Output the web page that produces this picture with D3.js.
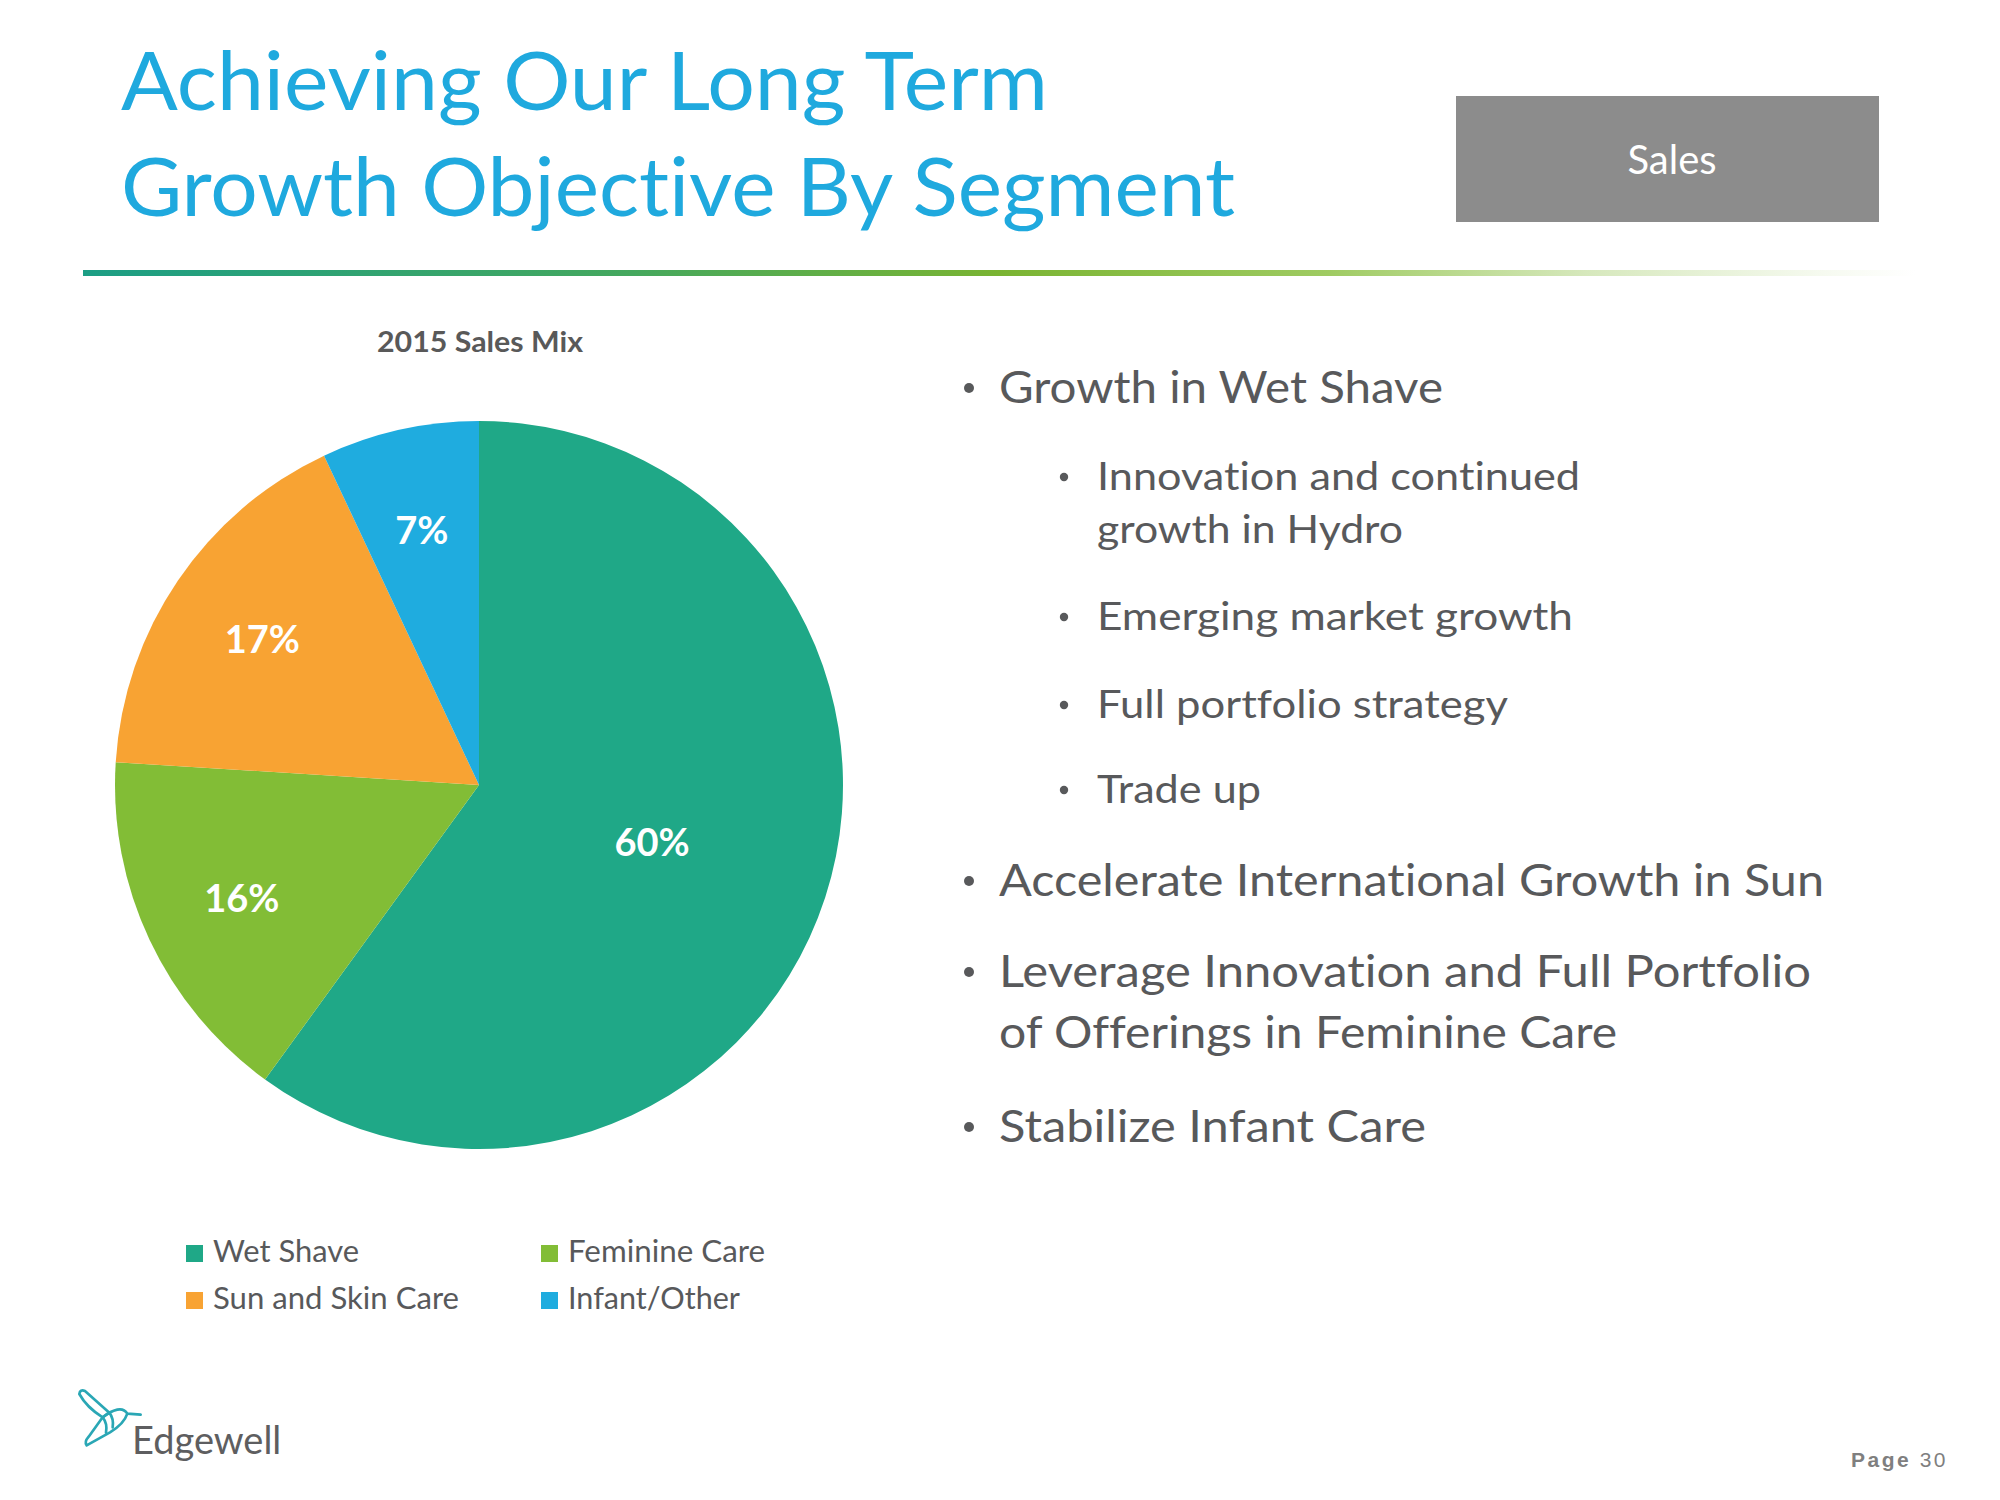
<!DOCTYPE html>
<html>
<head>
<meta charset="utf-8">
<script src="https://cdn.jsdelivr.net/npm/d3@7"></script>
<style>
  html, body { margin: 0; padding: 0; background: #ffffff; }
  svg { display: block; }
  text { font-variant-ligatures: none; font-feature-settings: "liga" 0, "clig" 0, "dlig" 0; }
</style>
</head>
<body>
<svg id="chart" width="2000" height="1500"></svg>
<script>
// ---- data ----
const categories = ["Wet Shave", "Feminine Care", "Sun and Skin Care", "Infant/Other"];
const values = [60, 16, 17, 7];
const colors = ["#1FA887", "#82BD36", "#F8A333", "#1FACDF"];
const titleLines = ["Achieving Our Long Term", "Growth Objective By Segment"];
const chartTitle = "2015 Sales Mix";
const bulletsMain = [
  ["Growth in Wet Shave"],
  ["Accelerate International Growth in Sun"],
  ["Leverage Innovation and Full Portfolio", "of Offerings in Feminine Care"],
  ["Stabilize Infant Care"]
];
const bulletsSub = [
  ["Innovation and continued", "growth in Hydro"],
  ["Emerging market growth"],
  ["Full portfolio strategy"],
  ["Trade up"]
];

const FONT = "Lato, 'Open Sans', sans-serif";
const GRAY = "#58595B";
const svg = d3.select("#chart");

function fit(sel, w) {
  sel.each(function () {
    const len = this.getComputedTextLength();
    if (Math.abs(len - w) > 2) {
      d3.select(this).attr("textLength", w).attr("lengthAdjust", "spacingAndGlyphs");
    }
  });
  return sel;
}

// ---- title ----
const titleW = [927, 1114];
const titleY = [110, 216];
titleLines.forEach((t, i) => {
  svg.append("text").attr("x", 121).attr("y", titleY[i])
    .attr("font-family", FONT).attr("font-size", 82).attr("fill", "#1FA9DE")
    .text(t).call(fit, titleW[i]);
});

// ---- Sales box ----
svg.append("rect").attr("x", 1456).attr("y", 96).attr("width", 423).attr("height", 126).attr("fill", "#8C8C8C");
svg.append("text").attr("x", 1672).attr("y", 174).attr("text-anchor", "middle")
  .attr("font-family", FONT).attr("font-size", 40).attr("fill", "#ffffff").text("Sales");

// ---- gradient rule ----
const defs = svg.append("defs");
const lg = defs.append("linearGradient").attr("id", "rule").attr("x1", "0%").attr("x2", "100%");
[[0, "#1C9E85"], [0.3, "#45A85E"], [0.5, "#7AB432"], [0.68, "#9FCB62"], [0.82, "#D6E8BC"], [0.95, "#F6FAF0"], [1, "#ffffff"]]
  .forEach(([o, c]) => lg.append("stop").attr("offset", o).attr("stop-color", c));
svg.append("rect").attr("x", 83).attr("y", 270).attr("width", 1832).attr("height", 6).attr("fill", "url(#rule)");

// ---- pie ----
const cx = 479, cy = 785, R = 364;
const pie = d3.pie().sort(null).value(d => d.value);
const arcs = pie(categories.map((c, i) => ({ name: c, value: values[i], color: colors[i] })));
const arc = d3.arc().innerRadius(0).outerRadius(R);
const g = svg.append("g").attr("transform", `translate(${cx},${cy})`);
g.selectAll("path.slice").data(arcs).enter().append("path")
  .attr("class", "slice").attr("d", arc).attr("fill", d => d.data.color);

g.selectAll("text.lbl").data(arcs).enter().append("text")
  .attr("class", "lbl")
  .attr("transform", d => {
    const r = d.data.value >= 50 ? R * 0.5 : R * 0.72;
    const la = d3.arc().innerRadius(r).outerRadius(r);
    const [x, y] = la.centroid(d);
    return `translate(${x},${y})`;
  })
  .attr("text-anchor", "middle").attr("dominant-baseline", "central")
  .attr("font-family", FONT).attr("font-weight", "bold").attr("font-size", 38)
  .attr("fill", "#ffffff").text(d => d.data.value + "%");

// chart title
svg.append("text").attr("x", 480).attr("y", 352).attr("text-anchor", "middle")
  .attr("font-family", FONT).attr("font-weight", "bold").attr("font-size", 29)
  .attr("fill", "#595959").text(chartTitle).call(fit, 206);

// ---- legend ----
const legendW = [146, 197, 246, 172];
const legend = svg.append("g");
categories.forEach((c, i) => {
  const col = i % 2, row = Math.floor(i / 2);
  const x = 186 + col * 355, y = 1245 + row * 47;
  legend.append("rect").attr("x", x).attr("y", y).attr("width", 17).attr("height", 17).attr("fill", colors[i]);
  legend.append("text").attr("x", x + 27).attr("y", y + 17)
    .attr("font-family", FONT).attr("font-size", 30).attr("fill", GRAY).text(c).call(fit, legendW[i]);
});

// ---- bullets ----
const txt = svg.append("g").attr("font-family", FONT).attr("fill", GRAY);
function bullet(x, y, r) {
  txt.append("circle").attr("cx", x).attr("cy", y).attr("r", r).attr("fill", GRAY);
}
const mainY = [403, 896, 987, 1142];
const mainW = [[444], [825], [812, 618], [427]];
const subY = [490, 630, 718, 803];
const subW = [[483, 306], [476], [411], [164]];

function mainBullet(i) {
  bullet(969, mainY[i] - 15, 5);
  bulletsMain[i].forEach((line, j) => {
    txt.append("text").attr("x", 999).attr("y", mainY[i] + j * 61)
      .attr("font-size", 44).text(line).call(fit, mainW[i][j]);
  });
}
mainBullet(0);
bulletsSub.forEach((lines, i) => {
  bullet(1064, subY[i] - 13, 4.2);
  lines.forEach((line, j) => {
    txt.append("text").attr("x", 1097).attr("y", subY[i] + j * 53)
      .attr("font-size", 39).text(line).call(fit, subW[i][j]);
  });
});
mainBullet(1); mainBullet(2); mainBullet(3);

// ---- logo ----
const logo = svg.append("g").attr("transform", "translate(70,1380) scale(0.3333)")
  .attr("fill", "none").attr("stroke", "#2AA7B5").attr("stroke-width", 8)
  .attr("stroke-linejoin", "round").attr("stroke-linecap", "round");
logo.append("path").attr("d", "M28,42 Q30,27 45,33 L118,98 L98,112 Q50,82 28,42 Z");
logo.append("path").attr("d", "M98,112 Q120,94 142,89 Q162,85 172,101 L212,104");
logo.append("path").attr("d", "M172,101 Q162,132 120,157 L50,196 Q42,186 56,170 L98,112");
logo.append("path").attr("d", "M118,98 Q132,116 128,142 M98,112 Q113,130 108,158");
svg.append("text").attr("x", 132).attr("y", 1454)
  .attr("font-family", FONT).attr("font-size", 38).attr("fill", "#5E5E60").text("Edgewell").call(fit, 151);

// ---- page number ----
const pg = svg.append("text").attr("x", 1948).attr("y", 1467).attr("text-anchor", "end")
  .attr("font-family", "'Liberation Sans', Arial, sans-serif").attr("font-size", 21)
  .attr("fill", "#7F7F7F").attr("letter-spacing", 2.5);
pg.append("tspan").attr("font-weight", "bold").text("Page ");
pg.append("tspan").text("30");
</script>
</body>
</html>
